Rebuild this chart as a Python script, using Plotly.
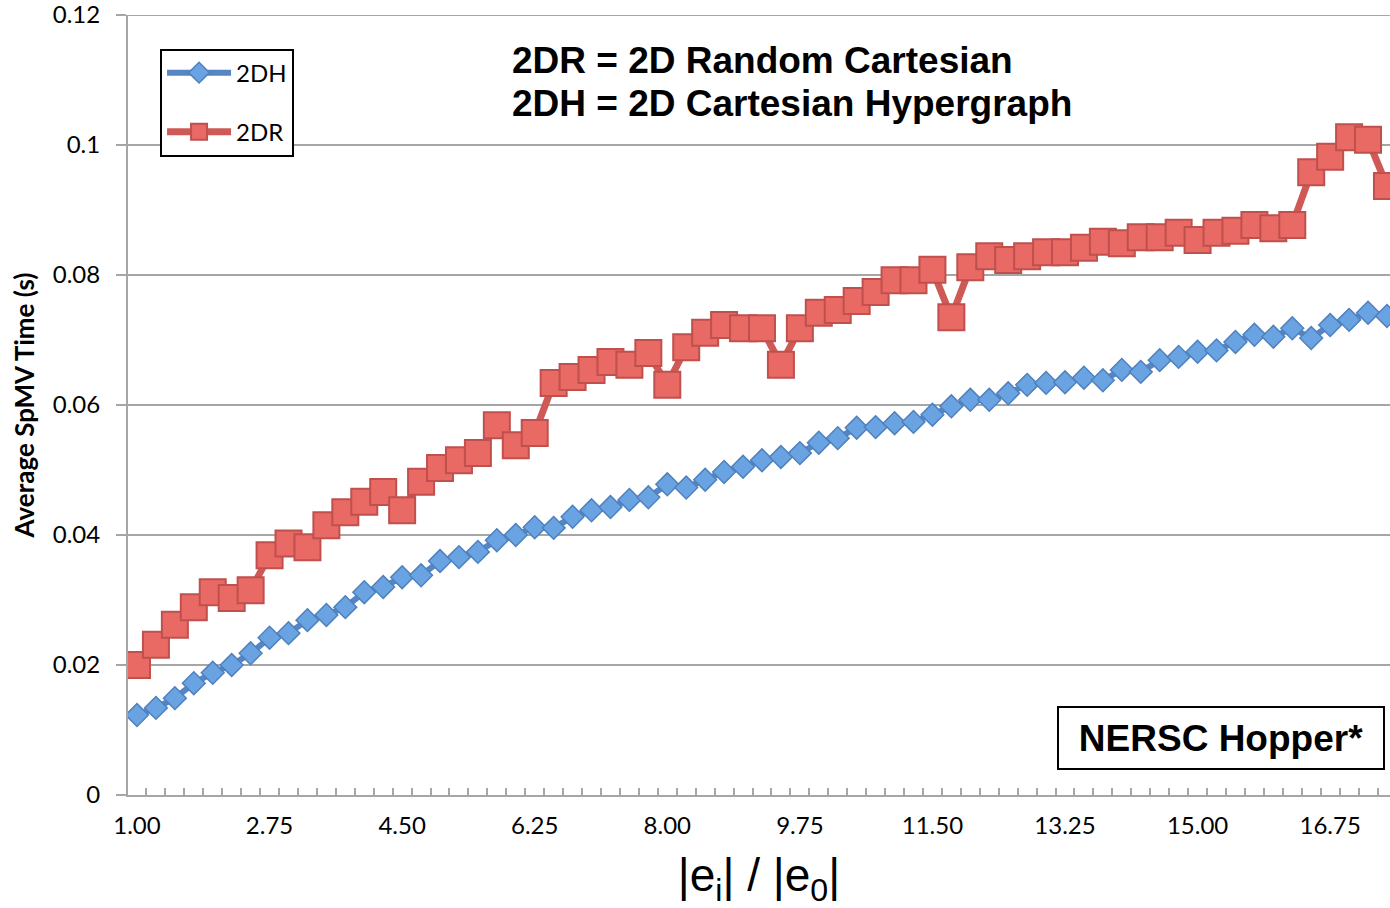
import plotly.graph_objects as go

categories = ["1.00", "1.25", "1.50", "1.75", "2.00", "2.25", "2.50", "2.75", "3.00", "3.25",
              "3.50", "3.75", "4.00", "4.25", "4.50", "4.75", "5.00", "5.25", "5.50", "5.75",
              "6.00", "6.25", "6.50", "6.75", "7.00", "7.25", "7.50", "7.75", "8.00", "8.25",
              "8.50", "8.75", "9.00", "9.25", "9.50", "9.75", "10.00", "10.25", "10.50", "10.75",
              "11.00", "11.25", "11.50", "11.75", "12.00", "12.25", "12.50", "12.75", "13.00", "13.25",
              "13.50", "13.75", "14.00", "14.25", "14.50", "14.75", "15.00", "15.25", "15.50", "15.75",
              "16.00", "16.25", "16.50", "16.75", "17.00", "17.25", "17.50"]

tick_labels = ["1.00", "2.75", "4.50", "6.25", "8.00", "9.75", "11.50", "13.25", "15.00", "16.75"]

y_ticks = [0, 0.02, 0.04, 0.06, 0.08, 0.1, 0.12]
y_tick_labels = ["0", "0.02", "0.04", "0.06", "0.08", "0.1", "0.12"]

time_2dh = [0.0123, 0.0134, 0.0149, 0.0172, 0.0188, 0.0200, 0.0218, 0.0242, 0.0249, 0.0269,
            0.0277, 0.0289, 0.0312, 0.0320, 0.0335, 0.0338, 0.0360, 0.0366, 0.0374, 0.0392,
            0.0400, 0.0412, 0.0411, 0.0428, 0.0438, 0.0443, 0.0454, 0.0458, 0.0478, 0.0473,
            0.0485, 0.0497, 0.0505, 0.0515, 0.0520, 0.0526, 0.0542, 0.0549, 0.0565, 0.0566,
            0.0572, 0.0574, 0.0585, 0.0598, 0.0608, 0.0608, 0.0618, 0.0631, 0.0634, 0.0635,
            0.0642, 0.0638, 0.0654, 0.0651, 0.0669, 0.0674, 0.0682, 0.0684, 0.0697, 0.0708,
            0.0705, 0.0718, 0.0703, 0.0723, 0.0731, 0.0742, 0.0737]

time_2dr = [0.0200, 0.0231, 0.0262, 0.0289, 0.0312, 0.0303, 0.0315, 0.0369, 0.0387, 0.0381,
            0.0415, 0.0435, 0.0451, 0.0466, 0.0438, 0.0482, 0.0503, 0.0515, 0.0526, 0.0569,
            0.0538, 0.0557, 0.0634, 0.0643, 0.0654, 0.0666, 0.0662, 0.0680, 0.0631, 0.0689,
            0.0711, 0.0723, 0.0718, 0.0718, 0.0662, 0.0718, 0.0742, 0.0746, 0.0760, 0.0774,
            0.0792, 0.0792, 0.0808, 0.0735, 0.0812, 0.0829, 0.0823, 0.0829, 0.0835, 0.0835,
            0.0842, 0.0851, 0.0849, 0.0858, 0.0858, 0.0865, 0.0854, 0.0865, 0.0868, 0.0877,
            0.0872, 0.0877, 0.0958, 0.0982, 0.1012, 0.1008, 0.0937]

x_idx = list(range(len(categories)))
tick_idx = [categories.index(t) for t in tick_labels]

GRAY = "#a6a6a6"

fig = go.Figure()
fig.add_trace(go.Scatter(
    x=x_idx, y=time_2dh, name="2DH", mode="lines+markers", legendgroup="h",
    line=dict(color="#5585c5", width=6),
    marker=dict(symbol="diamond", size=17.5, color="#6aa3e2",
                line=dict(color="#4f81bd", width=1.5)),
))
fig.add_trace(go.Scatter(
    x=x_idx, y=time_2dr, name="2DR", mode="lines+markers", legendgroup="r",
    line=dict(color="#cf5a55", width=7),
    marker=dict(symbol="square", size=26, color="#e96964",
                line=dict(color="#c0504d", width=2)),
))

fig.update_layout(
    width=1390, height=908,
    margin=dict(l=128, r=0, t=15, b=113),
    paper_bgcolor="white", plot_bgcolor="white",
    font=dict(family="Lato, Liberation Sans, sans-serif", color="black"),
    showlegend=True,
    legend=dict(
        x=0.0254, y=0.957, xanchor="left", yanchor="top",
        bordercolor="black", borderwidth=2, bgcolor="white",
        font=dict(family="Lato, sans-serif", size=24, color="black"),
        tracegroupgap=25, traceorder="grouped", itemwidth=64,
    ),
    xaxis=dict(
        range=[-0.475, 66.16],
        tickmode="array", tickvals=tick_idx, ticktext=tick_labels,
        ticks="", showgrid=False, zeroline=False,
        showline=True, linecolor=GRAY, linewidth=2,
        tickfont=dict(family="Lato, sans-serif", size=24, color="black"),
        ticklabelstandoff=8, automargin=False,
        minor=dict(tick0=-0.5, dtick=1, ticks="inside", ticklen=7,
                   tickcolor=GRAY, tickwidth=2, showgrid=False),
        title=dict(text="|e<sub>i</sub>| / |e<sub>0</sub>|",
                   font=dict(family="Liberation Sans, Arial, sans-serif", size=46, color="black"),
                   standoff=28),
    ),
    yaxis=dict(
        range=[0, 0.12], tickmode="array",
        tickvals=y_ticks, ticktext=y_tick_labels,
        showgrid=True, gridcolor=GRAY, gridwidth=2, zeroline=False,
        showline=True, linecolor=GRAY, linewidth=2,
        ticks="outside", ticklen=10, tickcolor=GRAY, tickwidth=2,
        tickfont=dict(family="Lato, sans-serif", size=24, color="black"),
        ticklabelstandoff=11, ticklabeloverflow="allow", automargin=False,
        title=dict(text="<b>Average SpMV Time (s)</b>",
                   font=dict(family="Lato, sans-serif", size=26, color="black"),
                   standoff=11),
    ),
    shapes=[
        dict(type="line", xref="paper", yref="y", x0=0, x1=1,
             y0=y_ticks[-1], y1=y_ticks[-1], line=dict(color=GRAY, width=2), layer="below"),
    ],
    annotations=[
        dict(text="<b>2DR = 2D Random Cartesian</b>", xref="paper", yref="paper",
             x=(510 - 128) / 1262, y=(795 - 60) / 780, xanchor="left", yanchor="middle",
             showarrow=False,
             font=dict(family="Liberation Sans, Arial, sans-serif", size=37, color="black")),
        dict(text="<b>2DH = 2D Cartesian Hypergraph</b>", xref="paper", yref="paper",
             x=(510 - 128) / 1262, y=(795 - 103) / 780, xanchor="left", yanchor="middle",
             showarrow=False,
             font=dict(family="Liberation Sans, Arial, sans-serif", size=37, color="black")),
        dict(text="<b>NERSC Hopper*</b>", xref="paper", yref="paper",
             x=(1221 - 128) / 1262, y=(795 - 738) / 780, xanchor="center", yanchor="middle",
             showarrow=False, width=322, height=58,
             bordercolor="black", borderwidth=2, borderpad=1, bgcolor="white",
             font=dict(family="Liberation Sans, Arial, sans-serif", size=37, color="black")),
    ],
)

fig.write_html("out.html", config={"displayModeBar": False},
               post_script="document.body.style.margin='0';document.body.style.overflow='hidden';")
